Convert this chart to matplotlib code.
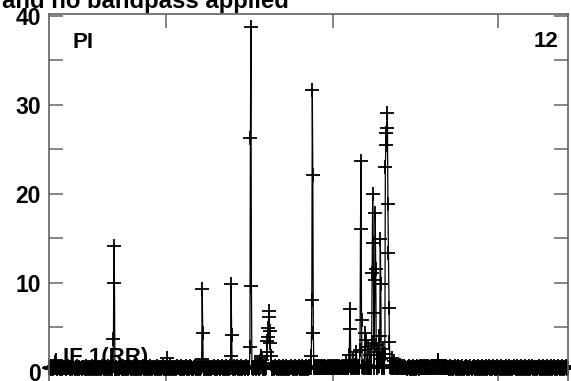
import numpy as np
import matplotlib
matplotlib.use('Agg')
import matplotlib.pyplot as plt

plt.rcParams['font.family'] = ['Liberation Sans', 'DejaVu Sans']

# baseline noise, one digit per channel (tenths)
noise_digits = (
    "5645354637452645354645374635456445364754635463546453546374563545"
    "4635463547365463546374635463546345364536475463546354735463546375"
    "4635463546375463547635463546375463546354763546354635463547635463"
    "5463546375463546354637546354635476354635463546375463546354637546"
    "4536475364536475364537465345364753645364735463547364536475364536"
    "3546475364536475463547364536475364537463546374536475364536475364"
    "4536475463546375463546475364537463546375463547364536475364536475"
    "5364537463546374536475364536475463547364536475364537463546374536"
    "4756475465746576475647564756475657465746574657465746576475647565"
    "5746576475647657465746576475867564756475867564756478657465746576"
    "6475864756475867564756487564756486756475648756475648756475647565"
    "4536475364536475364537465364756475647564756475647565746576475646"
    "5647564756475647564536475364536475364537463546374536475364536475"
    "4536475364536475364537463546374536475364536475463547364536475364"
    "3546374536475364536475463547364536475364537463546374536475364536"
    "4536475364536475364537463546374536475364536475463547364536475364"
)

# line features: channel, amplitude
spike_ch = [12, 13,
            127, 128, 129,
            232,
            301, 302, 303,
            358, 359, 360,
            396, 397, 398, 399,
            416, 417, 418, 419,
            428, 429, 430, 431, 432, 433, 434, 435, 436, 437, 438,
            517, 518, 519, 520, 521,
            586, 592, 593, 594,
            600, 606,
            613, 614, 615, 616,
            622, 623, 624,
            628, 632,
            636, 637, 638, 639, 640,
            642, 643, 644, 645,
            648, 650,
            652, 653, 654, 655,
            658,
            662, 663, 664, 665, 666, 667, 668, 669, 670, 671,
            676, 680,
            766, 767]
spike_val = [1.1, 1.3,
             3.7, 14.1, 10.0,
             1.6,
             1.5, 9.3, 4.4,
             1.8, 9.9, 4.2,
             2.8, 26.3, 38.8, 9.7,
             1.2, 1.6, 1.8, 1.3,
             1.0, 2.3, 3.5, 3.9, 4.9, 6.2, 6.9, 4.6, 3.3, 1.8, 0.9,
             1.8, 8.1, 31.7, 22.1, 4.4,
             1.2, 1.9, 7.1, 4.8,
             1.4, 2.2,
             2.5, 16.1, 23.7, 5.8,
             2.5, 4.4, 3.6,
             2.8, 1.9,
             3.3, 11.1, 20.0, 14.5, 6.6,
             10.3, 17.9, 11.6, 3.0,
             2.2, 4.0,
             4.0, 14.9, 9.9, 1.5,
             2.6,
             2.0, 23.0, 25.5, 26.9, 27.4, 29.1, 18.9, 13.4, 7.2, 3.4,
             1.6, 1.2,
             1.1, 1.3]

x_ticks = [231, 560, 886]
y_major = [0, 10, 20, 30, 40]
y_minor = [5, 15, 25, 35]

amp = np.array([int(c) / 10 for c in noise_digits])
amp[spike_ch] = spike_val
chan = np.arange(len(amp))

fig = plt.figure(figsize=(5.71, 3.81), dpi=100)
ax = fig.add_axes([49 / 571, -7 / 381, 519 / 571, 374 / 381])

ax.plot(chan, amp, color='black', lw=0.9, marker='+', ms=9.5, mew=1.3,
        clip_on=False)

ax.set_xlim(0, len(amp) - 1)
ax.set_ylim(-1.8, 40.22)
ax.set_xticks(x_ticks)
ax.set_yticks(y_major)
ax.set_yticks(y_minor, minor=True)
ax.tick_params(which='both', direction='in', length=10, width=1.2,
               color='#707070', top=True, right=True, labelbottom=False)
ax.tick_params(axis='y', labelsize=16.5, pad=6)
for lab in ax.get_yticklabels():
    lab.set_fontweight('bold')
for sp in ax.spines.values():
    sp.set_color('#606060')
    sp.set_linewidth(1.2)

ax.text(0.046, 0.952, 'PI', transform=ax.transAxes, fontsize=16,
        fontweight='bold', va='top', ha='left')
ax.text(0.981, 0.955, '12', transform=ax.transAxes, fontsize=16,
        fontweight='bold', va='top', ha='right')
ax.text(0.027, 0.067, 'IF 1(RR)', transform=ax.transAxes, fontsize=16,
        fontweight='bold', va='baseline', ha='left')

fig.text(0.004, 1 - 8 / 381, 'and no bandpass applied', fontsize=17.2,
         fontweight='bold', va='baseline', ha='left')

fig.savefig('out.png', dpi=100)
